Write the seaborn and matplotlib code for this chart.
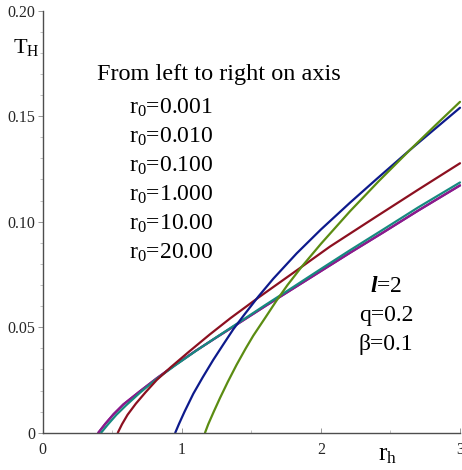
import matplotlib
matplotlib.use("Agg")
import matplotlib.pyplot as plt
from matplotlib.ticker import MultipleLocator
import pandas as pd
import seaborn as sns

# values, one pair of lists per r0
r0_labels = ["0.001", "0.010", "0.100", "1.000", "10.00", "20.00"]

rh_001 = [0.40, 0.45, 0.51, 0.58, 0.70, 0.82, 0.95, 1.10, 1.25, 1.40, 1.60, 1.80, 2.00, 2.21, 2.45, 2.70, 3.00]
th_001 = [0.0, 0.0042, 0.0088, 0.0134, 0.0197, 0.0258, 0.0320, 0.0388, 0.0452, 0.0515, 0.0600, 0.0683, 0.0766, 0.0853, 0.0950, 0.1053, 0.1172]

rh_010 = [0.40, 0.45, 0.51, 0.58, 0.70, 0.82, 0.95, 1.10, 1.25, 1.40, 1.60, 1.80, 2.00, 2.21, 2.45, 2.70, 3.00]
th_010 = [0.0, 0.0042, 0.0088, 0.0134, 0.0197, 0.0258, 0.0320, 0.0388, 0.0452, 0.0515, 0.0600, 0.0683, 0.0766, 0.0853, 0.0950, 0.1053, 0.1172]

rh_100 = [0.42, 0.47, 0.53, 0.60, 0.70, 0.82, 0.95, 1.10, 1.25, 1.40, 1.60, 1.80, 2.00, 2.21, 2.45, 2.70, 3.00]
th_100 = [0.0, 0.0040, 0.0085, 0.0130, 0.0190, 0.0255, 0.0318, 0.0387, 0.0453, 0.0518, 0.0605, 0.0690, 0.0776, 0.0865, 0.0964, 0.1068, 0.1186]

rh_1 = [0.54, 0.57, 0.61, 0.67, 0.74, 0.82, 0.92, 1.05, 1.20, 1.35, 1.55, 1.80, 2.065, 2.40, 2.70, 3.00]
th_1 = [0.0, 0.0040, 0.0085, 0.0138, 0.0192, 0.0250, 0.0310, 0.0383, 0.0465, 0.0543, 0.0640, 0.0757, 0.0882, 0.1025, 0.1152, 0.1277]

rh_10 = [0.953, 0.98, 1.02, 1.083, 1.15, 1.226, 1.30, 1.37, 1.45, 1.55, 1.658, 1.826, 2.00, 2.209, 2.40, 2.64, 2.82, 3.00]
th_10 = [0.0, 0.0042, 0.0100, 0.0185, 0.0262, 0.0345, 0.0420, 0.0490, 0.0560, 0.0645, 0.0730, 0.0850, 0.0963, 0.1090, 0.1202, 0.1340, 0.1440, 0.1540]

rh_20 = [1.167, 1.19, 1.23, 1.275, 1.33, 1.394, 1.46, 1.514, 1.60, 1.68, 1.76, 1.86, 2.00, 2.21, 2.42, 2.64, 2.82, 3.00]
th_20 = [0.0, 0.0040, 0.0100, 0.0165, 0.0240, 0.0322, 0.0400, 0.0460, 0.0545, 0.0625, 0.0700, 0.0785, 0.0895, 0.1050, 0.1195, 0.1340, 0.1455, 0.1568]

curves = [(rh_001, th_001), (rh_010, th_010), (rh_100, th_100),
          (rh_1, th_1), (rh_10, th_10), (rh_20, th_20)]
colors = ["#7a1a8c", "#8c1a8c", "#168a80", "#8c1020", "#0d1a8c", "#5b8c12"]

frames = []
for lab, (rh, th) in zip(r0_labels, curves):
    frames.append(pd.DataFrame({"r_h": rh, "T_H": th, "r0": lab}))
df = pd.concat(frames, ignore_index=True)

sns.set_theme(style="white")
plt.rcParams["font.family"] = ["Liberation Serif", "DejaVu Serif"]
plt.rcParams["mathtext.fontset"] = "custom"
plt.rcParams["mathtext.rm"] = "Liberation Serif"
plt.rcParams["mathtext.it"] = "Liberation Serif:italic"
plt.rcParams["mathtext.bf"] = "Liberation Serif:italic:bold"

W, H = 462, 470
fig = plt.figure(figsize=(W / 100, H / 100), dpi=100)
ax = fig.add_axes([42.7 / W, 37.3 / H, (460 - 42.7) / W, (459.3 - 37.3) / H])

sns.lineplot(data=df, x="r_h", y="T_H", hue="r0", hue_order=r0_labels,
             palette=colors, estimator=None, sort=False, legend=False,
             linewidth=1.6, ax=ax)
for ln in ax.lines:
    ln.set_clip_on(False)

ax.set_xlim(0, 3)
ax.set_ylim(0, 0.20)
ax.set_xlabel("")
ax.set_ylabel("")

for s in ["top", "right"]:
    ax.spines[s].set_visible(False)
for s in ["left", "bottom"]:
    ax.spines[s].set_color("#4d4d4d")
    ax.spines[s].set_linewidth(1.0)

ax.set_xticks([0, 1, 2, 3])
ax.set_xticklabels(["0", "1", "2", "3"])
ax.set_yticks([0, 0.05, 0.10, 0.15, 0.20])
ax.set_yticklabels(["0", "0.05", "0.10", "0.15", "0.20"])
ax.xaxis.set_minor_locator(MultipleLocator(0.5))
ax.yaxis.set_minor_locator(MultipleLocator(0.01))
ax.tick_params(axis="x", which="major", direction="in", length=3.5, width=0.6,
               color="#888888", labelsize=11.5, pad=7, bottom=True)
ax.tick_params(axis="x", which="minor", direction="in", length=2, width=0.5,
               color="#aaaaaa", bottom=True)
ax.tick_params(axis="y", which="major", direction="out", length=3.5, width=0.6,
               color="#888888", labelsize=11.5, pad=2, left=True)
ax.tick_params(axis="y", which="minor", direction="out", length=2, width=0.5,
               color="#aaaaaa", left=True)


def put(x, y, s, **kw):
    fig.text(x / W, 1 - y / H, s, va="baseline", color="black", **kw)


put(13, 53, r"T$_\mathrm{H}$", fontsize=16)
put(378, 460, r"r$_\mathrm{h}$", fontsize=18)

put(97, 80, "From left to right on axis", fontsize=17.5)
for i, lab in enumerate(r0_labels):
    put(129, 113.3 + 29.1 * i, r"r$_\mathrm{0}$=" + lab, fontsize=17)

put(386, 291.7, r"$\mathbf{l}$=2", fontsize=17, ha="center")
put(386, 320.5, "q=0.2", fontsize=17, ha="center")
put(386, 350, "β=0.1", fontsize=17, ha="center")

fig.savefig("out.png", dpi=100)
